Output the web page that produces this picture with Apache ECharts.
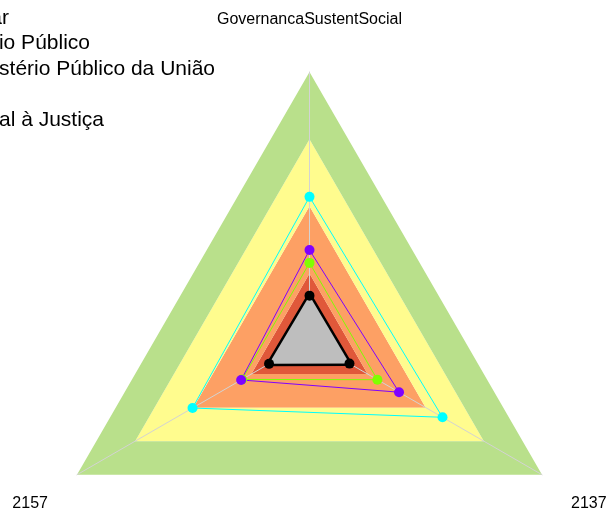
<!DOCTYPE html>
<html>
<head>
<meta charset="utf-8">
<script src="https://cdn.jsdelivr.net/npm/echarts@6/dist/echarts.min.js"></script>
<style>
html,body{margin:0;padding:0;background:#fff;}
#chart{width:608px;height:514px;}
</style>
</head>
<body>
<div id="chart"></div>
<script>
// ---- data ----
var indicatorNames = ["GovernancaSustentSocial", "2157", "2137"];
var axisMax = 100;
var legendLabels = ["Justiça Militar", "Ministério Público", "Ministério Público da União", "", "Acesso Universal à Justiça"];
var seriesNames = ["Justiça Militar", "Ministério Público", "Ministério Público da União", "Acesso Universal à Justiça"];
var cyanValues = [53.5, 50.3, 57.2];
var greenValues = [28.9, 29.0, 29.2];
var purpleValues = [33.7, 29.4, 38.5];
var blackValues = [16.7, 17.4, 17.2];
var bandColors = ["#E0583A", "#FDA064", "#FFFC8E", "#B9E08B"];

var chart = echarts.init(document.getElementById('chart'), null, {renderer: 'canvas'});

var legendEnds = [9, 90, 215, 0, 104];
var legendY = [18.2, 43.6, 69.0, 94.4, 119.8];
var graphics = [];
legendLabels.forEach(function (t, i) {
  if (!t) return;
  graphics.push({
    type: 'text', x: legendEnds[i], y: legendY[i], silent: true,
    style: {text: t, fill: '#000', font: '21px "Liberation Sans", Arial, sans-serif',
            textAlign: 'right', textVerticalAlign: 'middle', verticalAlign: 'middle'}
  });
});

var option = {
  backgroundColor: '#ffffff',
  animation: false,
  graphic: graphics,
  radar: {
    center: [309.5, 340.5],
    radius: 268.5,
    startAngle: 90,
    shape: 'polygon',
    splitNumber: 4,
    nameGap: 33.5,
    indicator: indicatorNames.map(function (n) { return {name: n, min: 0, max: axisMax}; }),
    axisName: {
      color: '#000', fontSize: 16, lineHeight: 25,
      fontFamily: '"Liberation Sans", Arial, sans-serif',
      padding: [0, 0, 6, 0],
      formatter: function (name) { return name === indicatorNames[0] ? name : '\n' + name; }
    },
    splitArea: {show: true, areaStyle: {color: bandColors, opacity: 1}},
    splitLine: {show: false},
    axisLine: {show: true, lineStyle: {color: '#D3D3D3', width: 1}},
    axisTick: {show: false},
    axisLabel: {show: false}
  },
  series: [{
    type: 'radar',
    symbol: 'circle',
    symbolSize: 10,
    data: [
      {name: seriesNames[0], value: cyanValues,
       lineStyle: {color: '#00FFFF', width: 1}, itemStyle: {color: '#00FFFF'}},
      {name: seriesNames[2], value: greenValues,
       lineStyle: {color: '#80FF00', width: 1}, itemStyle: {color: '#80FF00'}},
      {name: seriesNames[1], value: purpleValues,
       lineStyle: {color: '#8000FF', width: 1}, itemStyle: {color: '#8000FF'}},
      {name: seriesNames[3], value: blackValues,
       lineStyle: {color: '#000000', width: 5}, itemStyle: {color: '#000000'},
       areaStyle: {color: '#BEBEBE', opacity: 1}}
    ]
  }]
};
chart.setOption(option);
</script>
</body>
</html>
